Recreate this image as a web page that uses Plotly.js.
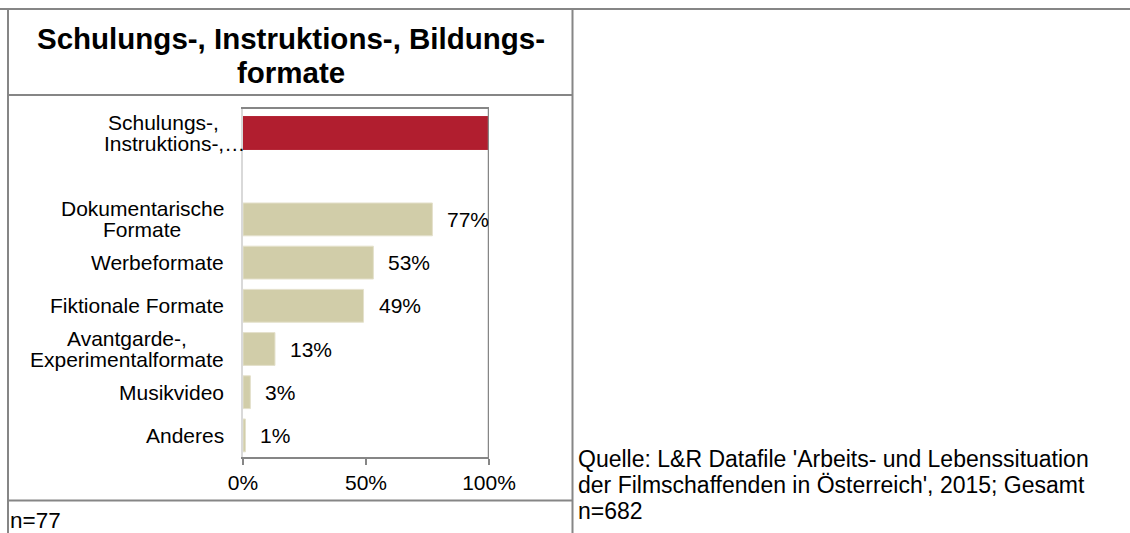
<!DOCTYPE html>
<html><head><meta charset="utf-8">
<script src="https://cdn.plot.ly/plotly-3.0.1.min.js"></script>
<style>html,body{margin:0;padding:0;background:#fff}#chart{width:1130px;height:533px}</style>
</head><body><div id="chart"></div>
<script>
// ---- data ----
const chartTitle = ["Schulungs-, Instruktions-, Bildungs-", "formate"];
const categories = ["Schulungs-,<br>Instruktions-,…", " ", "Dokumentarische<br>Formate", "Werbeformate", "Fiktionale Formate", "Avantgarde-,<br>Experimentalformate", "Musikvideo", "Anderes"];
const values = [100, null, 77, 53, 49, 13, 3, 1];
const valueLabels = ["", "", "77%", "53%", "49%", "13%", "3%", "1%"];
const highlight = [true, false, false, false, false, false, false, false];
const xTickVals = [0, 50, 100];
const xTickText = ["0%", "50%", "100%"];
const sampleNote = "n=77";
const sourceLines = ["Quelle: L&R Datafile 'Arbeits- und Lebenssituation", "der Filmschaffenden in Österreich', 2015; Gesamt", "n=682"];

// ---- layout helpers ----
const W = 1130, H = 533;
const px = x => x / W;
const py = y => 1 - y / H;
const FONT = "Liberation Sans, Arial, sans-serif";
const FS = 21;
const RED = "#B11E2F", BEIGE = "#D1CDA9", FRAME = "#868686";

const canvas = document.createElement("canvas");
const ctx = canvas.getContext("2d");
ctx.font = FS + "px 'Liberation Sans'";
const ELL = "…";
const measure = t => ctx.measureText(t.endsWith(ELL) ? t.slice(0, -1) : t).width;
const ellW = ctx.measureText(ELL).width;

const annotations = [];
// title lines
const titleY = [39, 73];
chartTitle.forEach((t, i) => annotations.push({
  text: "<b>" + t + "</b>", x: px(291), y: py(titleY[i]), xref: "paper", yref: "paper",
  xanchor: "center", yanchor: "middle", showarrow: false,
  font: {family: FONT, size: 29.5, color: "#000"}
}));
// category labels (centered lines, right-aligned block; a trailing ellipsis overflows)
const labelRight = 224, lineH = 21;
categories.forEach((c, i) => {
  if (!c.trim()) return;
  const lines = c.split("<br>");
  const maxW = Math.max(...lines.map(measure));
  const center = labelRight - maxW / 2;
  const n = lines.length;
  lines.forEach((ln, j) => annotations.push({
    text: ln, x: px(center + (ln.endsWith(ELL) ? ellW / 2 : 0)), y: c, xref: "paper", yref: "y",
    xanchor: "center", yanchor: "middle", yshift: -(j - (n - 1) / 2) * lineH,
    showarrow: false, font: {family: FONT, size: FS, color: "#000"}
  }));
});
// value labels
values.forEach((v, i) => {
  if (v === null || !valueLabels[i]) return;
  annotations.push({
    text: valueLabels[i], x: v, y: categories[i], xref: "x", yref: "y",
    xanchor: "left", yanchor: "middle", xshift: 13, showarrow: false,
    font: {family: FONT, size: FS, color: "#000"}
  });
});
// notes
annotations.push({
  text: sampleNote, x: px(8), y: py(520), xref: "paper", yref: "paper",
  xanchor: "left", yanchor: "middle", showarrow: false,
  font: {family: FONT, size: 22.5, color: "#000"}
});
const srcY = [459, 485, 511];
sourceLines.forEach((t, i) => annotations.push({
  text: t, x: px(576), y: py(srcY[i]), xref: "paper", yref: "paper",
  xanchor: "left", yanchor: "middle", showarrow: false,
  font: {family: FONT, size: 23, color: "#000"}
}));

const L = (x0, y0, x1, y1, color, w) => ({type: "line", xref: "paper", yref: "paper",
  x0: px(x0), y0: py(y0), x1: px(x1), y1: py(y1), line: {color: color, width: w}});
const shapes = [
  L(0, 9, W, 9, FRAME, 2),
  L(8, 8, 8, H, FRAME, 2),
  L(572.5, 8, 572.5, H, FRAME, 2),
  L(8, 95, 572.5, 95, FRAME, 2),
  L(8, 500.5, 572.5, 500.5, FRAME, 2),
  {type: "line", xref: "x", yref: "paper", x0: 100, x1: 100, y0: py(457), y1: py(108),
   line: {color: FRAME, width: 2.5}}
];

const trace = {
  type: "bar", orientation: "h", x: values, y: categories,
  marker: {color: highlight.map(h => h ? RED : BEIGE),
           line: {color: highlight.map(h => h ? RED : "#E4E1CC"), width: 1}},
  hoverinfo: "none"
};

const layout = {
  width: W, height: H, margin: {l: 0, r: 0, t: 0, b: 0, pad: 0},
  paper_bgcolor: "#fff", plot_bgcolor: "#fff", showlegend: false, bargap: 0.24,
  xaxis: {domain: [px(243), px(489)], range: [0, 100], tickvals: xTickVals, ticktext: xTickText,
          showgrid: false, zeroline: false, showline: true, mirror: true, linecolor: FRAME, linewidth: 2,
          ticks: "outside", ticklen: 6, tickcolor: FRAME, tickwidth: 2,
          tickfont: {family: FONT, size: FS, color: "#000"}, fixedrange: true},
  yaxis: {domain: [py(457), py(109)], type: "category", categoryorder: "array", categoryarray: categories,
          autorange: "reversed", showticklabels: false, showgrid: false, zeroline: false,
          showline: true, linecolor: "#D9D9D9", linewidth: 2, ticks: "", fixedrange: true},
  annotations: annotations, shapes: shapes,
  font: {family: FONT, size: FS, color: "#000"}
};
Plotly.newPlot("chart", [trace], layout, {displayModeBar: false, staticPlot: true});
</script></body></html>
